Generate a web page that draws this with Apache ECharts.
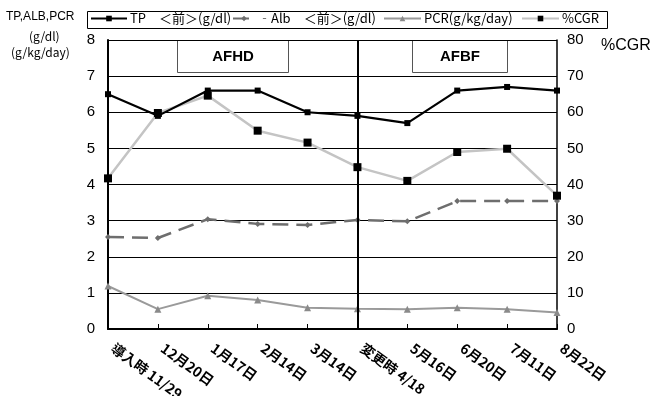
<!DOCTYPE html>
<html>
<head>
<meta charset="utf-8">
<script src="https://cdn.jsdelivr.net/npm/echarts@6/dist/echarts.min.js"></script>
<style>
  html, body { margin: 0; padding: 0; background: #fff; }
  #chart { width: 658px; height: 396px; }
</style>
</head>
<body>
<div id="chart"></div>
<script>
// Visit dates (x categories)
var categories = ['導入時 11/29', '12月20日', '1月17日', '2月14日', '3月14日',
                  '変更時 4/18', '5月16日', '6月20日', '7月11日', '8月22日'];
// Left axis series (g/dl, g/kg/day)
var tpValues  = [6.5, 5.9, 6.6, 6.6, 6.0, 5.9, 5.7, 6.6, 6.7, 6.6];
var albValues = [2.55, 2.52, 3.04, 2.91, 2.88, 3.02, 2.98, 3.54, 3.54, 3.54];
var pcrValues = [1.19, 0.55, 0.92, 0.80, 0.59, 0.56, 0.55, 0.59, 0.55, 0.46];
// Right axis series (%)
var cgrValues = [41.7, 59.8, 64.6, 54.9, 51.6, 44.8, 41.0, 49.0, 49.9, 36.9];
// Axis ranges
var leftTicks  = [0, 1, 2, 3, 4, 5, 6, 7, 8];
var rightTicks = [0, 10, 20, 30, 40, 50, 60, 70, 80];
// Index of the dialysis change point
var changeIndex = 5;
// Series names
var seriesNames = ['TP　＜前＞(g/dl)', '‐Alb　＜前＞(g/dl)', 'PCR(g/kg/day)', '%CGR'];

var jpFont = '"Noto Sans CJK JP", sans-serif';
var numFont = '"Liberation Sans", Arial, sans-serif';

// one legend entry per slot inside a shared frame
var legendSlots = [
  { left: 90, width: 36 },
  { left: 232, width: 22 },
  { left: 383, width: 37 },
  { left: 521, width: 37 }
];
var legends = seriesNames.map(function (name, i) {
  return {
    left: legendSlots[i].left, top: 12,
    padding: 0,
    itemWidth: legendSlots[i].width, itemHeight: 7, itemGap: 0,
    textStyle: { fontFamily: jpFont, fontSize: 13, color: '#000', padding: [0, 0, 0, -2] },
    data: [{ name: name }]
  };
});

var chart = echarts.init(document.getElementById('chart'), null, { renderer: 'canvas' });

chart.setOption({
  animation: false,
  backgroundColor: '#fff',
  grid: { left: 108, right: 101, top: 40, bottom: 67, containLabel: false, outerBoundsMode: 'none' },
  legend: legends,
  xAxis: {
    type: 'category',
    data: categories,
    boundaryGap: false,
    axisLine: { lineStyle: { color: '#000', width: 2 } },
    axisTick: { show: true, inside: true, length: 5, lineStyle: { color: '#000', width: 1 } },
    axisLabel: {
      rotate: -36, margin: 14, interval: 0, padding: [0, 0, 0, 6],
      fontFamily: jpFont, fontSize: 14, fontWeight: 'bold', color: '#000'
    },
    splitLine: { show: false }
  },
  yAxis: [
    {
      type: 'value', min: leftTicks[0], max: leftTicks[leftTicks.length - 1], interval: 1,
      axisLine: { show: true, lineStyle: { color: '#000', width: 2 } },
      axisTick: { show: false },
      axisLabel: { margin: 13, fontFamily: numFont, fontSize: 15, color: '#000' },
      splitLine: { show: true, lineStyle: { color: '#000', width: 1 } }
    },
    {
      type: 'value', min: rightTicks[0], max: rightTicks[rightTicks.length - 1], interval: 10,
      position: 'right',
      axisLine: { show: true, lineStyle: { color: '#000', width: 1.5 } },
      axisTick: { show: false },
      axisLabel: { margin: 10, fontFamily: numFont, fontSize: 15, color: '#000' },
      splitLine: { show: false }
    }
  ],
  graphic: [
    {
      type: 'rect', left: 87, top: 11, z: -1,
      shape: { width: 520, height: 17 },
      style: { fill: '#fff', stroke: '#000', lineWidth: 1 }
    },
    {
      type: 'text', left: 6, top: 11,
      style: { text: 'TP,ALB,PCR', font: '12px ' + numFont, fill: '#000' }
    },
    {
      type: 'text', left: 29, top: 30,
      style: { text: '(g/dl)', font: '12px ' + jpFont, fill: '#000' }
    },
    {
      type: 'text', left: 11, top: 46,
      style: { text: '(g/kg/day)', font: '12px ' + jpFont, fill: '#000' }
    },
    {
      type: 'text', left: 601, top: 38,
      style: { text: '%CGR', font: '16px ' + numFont, fill: '#000' }
    },
    {
      type: 'group', left: 177, top: 40,
      children: [
        { type: 'rect', shape: { x: 0, y: 0, width: 111, height: 32 },
          style: { fill: '#fff', stroke: '#555', lineWidth: 1 } },
        { type: 'text', x: 55.5, y: 16,
          style: { text: 'AFHD', font: 'bold 15px ' + numFont, fill: '#000',
                   align: 'center', verticalAlign: 'middle' } }
      ]
    },
    {
      type: 'group', left: 412, top: 40,
      children: [
        { type: 'rect', shape: { x: 0, y: 0, width: 95, height: 32 },
          style: { fill: '#fff', stroke: '#555', lineWidth: 1 } },
        { type: 'text', x: 47.5, y: 16,
          style: { text: 'AFBF', font: 'bold 15px ' + numFont, fill: '#000',
                   align: 'center', verticalAlign: 'middle' } }
      ]
    }
  ],
  series: [
    {
      name: seriesNames[0], type: 'line', yAxisIndex: 0, data: tpValues,
      symbol: 'rect', symbolSize: 6, z: 5,
      lineStyle: { color: '#000', width: 2.2 },
      itemStyle: { color: '#000' },
      markLine: {
        silent: true, symbol: ['none', 'none'], label: { show: false },
        lineStyle: { color: '#000', width: 2, type: 'solid' },
        data: [{ xAxis: changeIndex }]
      }
    },
    {
      name: seriesNames[1], type: 'line', yAxisIndex: 0, data: albValues,
      symbol: 'diamond', symbolSize: 6, z: 4,
      lineStyle: { color: '#6e6e6e', width: 2.5, type: [16, 8] },
      itemStyle: { color: '#6e6e6e' }
    },
    {
      name: seriesNames[2], type: 'line', yAxisIndex: 0, data: pcrValues,
      symbol: 'triangle', symbolSize: 7, z: 3,
      lineStyle: { color: '#9a9a9a', width: 2 },
      itemStyle: { color: '#8a8a8a' }
    },
    {
      name: seriesNames[3], type: 'line', yAxisIndex: 1, data: cgrValues,
      symbol: 'rect', symbolSize: 8, z: 4,
      lineStyle: { color: '#c4c4c4', width: 2.5 },
      itemStyle: { color: '#000' }
    }
  ]
});
</script>
</body>
</html>
